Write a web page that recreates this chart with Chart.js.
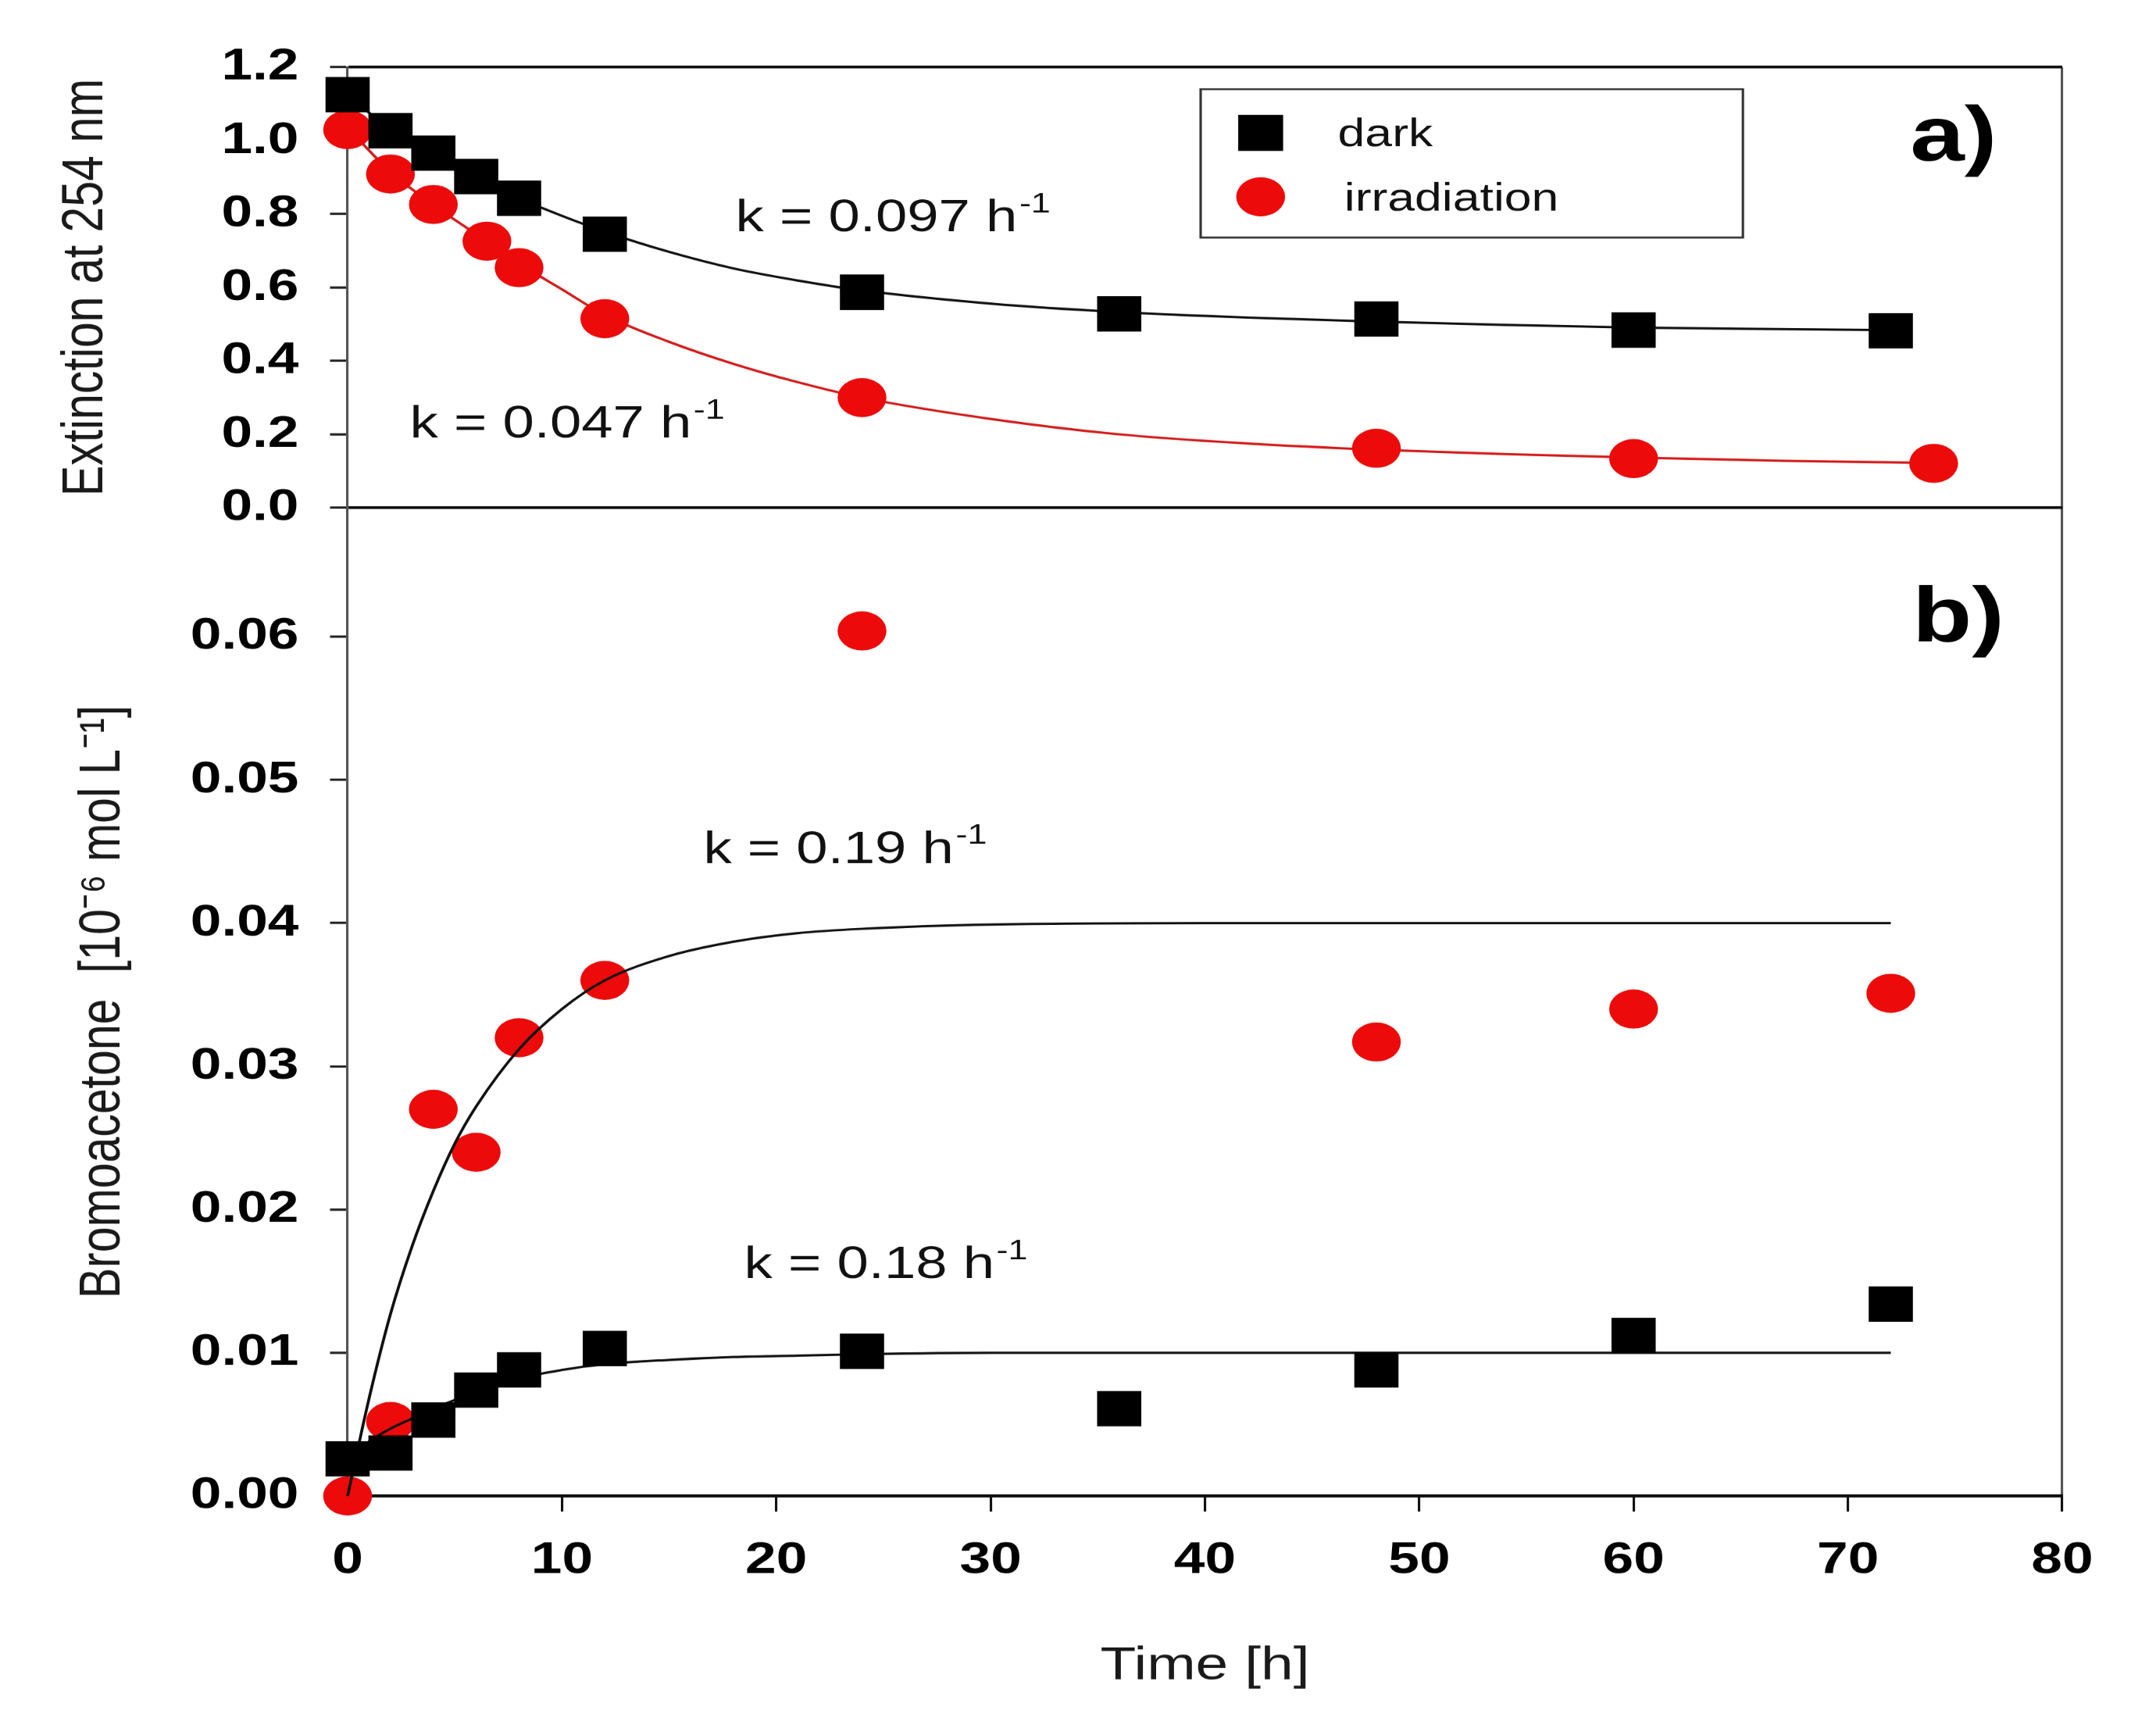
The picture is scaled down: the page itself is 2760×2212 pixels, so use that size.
<!DOCTYPE html>
<html>
<head>
<meta charset="utf-8">
<script src="https://cdn.jsdelivr.net/npm/chart.js@4.4.1/dist/chart.umd.min.js"></script>
<style>
  html, body { margin: 0; padding: 0; background: #fff; overflow: hidden; }
  /* the original figure is stretched sideways, so draw narrow and scale the box */
  #wrap { width: 2208px; height: 2212px; transform: scaleX(1.25); transform-origin: 0 0; }
</style>
</head>
<body>
<div id="wrap"><canvas id="c"></canvas></div>
<script>
var FAMILY = "'Liberation Sans', Arial, sans-serif";
var RED = '#ec0a0a';

// a) extinction at 254 nm
var hoursDarkA = [0, 2, 4, 6, 8, 12, 24, 36, 48, 60, 72];
var extDark = [1.125, 1.027, 0.966, 0.902, 0.843, 0.745, 0.587, 0.528, 0.514, 0.484, 0.482];
var hoursIrrA = [0, 2, 4, 6.5, 8, 12, 24, 48, 60, 74];
var extIrr = [1.03, 0.909, 0.826, 0.726, 0.654, 0.515, 0.300, 0.162, 0.134, 0.121];

// fitted curves of a)
var fitDarkA_t = [0, 2, 4, 6, 8, 10, 12, 15, 18, 21, 24, 30, 36, 42, 48, 54, 60, 66, 72];
var fitDarkA_y = [1.125, 1.03, 0.96, 0.9, 0.843, 0.795, 0.752, 0.697, 0.652, 0.619, 0.592, 0.556, 0.533, 0.518, 0.507, 0.498, 0.491, 0.487, 0.484];
var fitIrrA_t = [0, 2, 4, 6, 8, 10, 12, 15, 18, 21, 24, 30, 36, 42, 48, 54, 60, 67, 74];
var fitIrrA_y = [1.035, 0.915, 0.825, 0.745, 0.665, 0.595, 0.525, 0.452, 0.392, 0.342, 0.300, 0.242, 0.200, 0.175, 0.158, 0.146, 0.137, 0.128, 0.122];

// b) bromoacetone [10^-6 mol/L]
var hoursDarkB = [0, 2, 4, 6, 8, 12, 24, 36, 48, 60, 72];
var bromoDark = [0.0026, 0.0030, 0.0053, 0.0074, 0.0088, 0.0103, 0.0101, 0.0061, 0.0088, 0.0112, 0.0134];
var hoursIrrB = [0, 2, 4, 6, 8, 12, 24, 48, 60, 72];
var bromoIrr = [0.0, 0.0052, 0.0270, 0.0240, 0.0320, 0.0360, 0.0604, 0.0317, 0.0340, 0.0351];

var fitDarkB_t = [0, 1, 2, 3, 4, 5, 6, 8, 10, 12, 15, 18, 21, 24, 30, 72];
var fitDarkB_y = [0.0025, 0.0038, 0.0047, 0.0054, 0.0061, 0.0067, 0.0072, 0.0082, 0.0088, 0.0092, 0.0095, 0.0097, 0.0098, 0.0099, 0.0100, 0.0100];
var fitIrrB_t = [0, 1, 2, 3, 4, 5, 6, 8, 10, 12, 15, 18, 21, 24, 30, 40, 72];
var fitIrrB_y = [0.0, 0.0068, 0.0127, 0.0174, 0.0213, 0.0246, 0.0272, 0.0312, 0.0340, 0.0360, 0.0377, 0.0387, 0.0393, 0.0396, 0.0399, 0.0400, 0.0400];

var xTicksMax = 80;

function pairs(xs, ys) {
  return xs.map(function (t, i) { return { x: t, y: ys[i] }; });
}

function pointSet(label, xs, ys, axis, style, color, radius, order) {
  return {
    label: label, data: pairs(xs, ys), yAxisID: axis,
    showLine: false, pointStyle: style, pointRadius: radius, pointHoverRadius: radius,
    pointBackgroundColor: color, pointBorderWidth: 0, clip: false, order: order
  };
}

function fitSet(xs, ys, axis, color, order) {
  return {
    label: 'fit', data: pairs(xs, ys), yAxisID: axis,
    showLine: true, pointRadius: 0, borderColor: color, borderWidth: 3,
    cubicInterpolationMode: 'monotone', clip: false, order: order
  };
}

function supText(ctx, px, py, base, sup, size) {
  ctx.font = size + 'px ' + FAMILY;
  ctx.textAlign = 'left';
  ctx.textBaseline = 'alphabetic';
  ctx.fillText(base, px, py);
  var w = ctx.measureText(base).width;
  ctx.font = Math.round(size * 0.62) + 'px ' + FAMILY;
  ctx.fillText(sup, px + w + 2, py - size * 0.42);
}

// rate constants, panel letters and the legend box
var notes = {
  id: 'notes',
  afterDatasetsDraw: function (chart) {
    var ctx = chart.ctx, x = chart.scales.x, ya = chart.scales.ya, yb = chart.scales.yb;
    ctx.save();
    ctx.fillStyle = '#111';
    supText(ctx, x.getPixelForValue(18.1), ya.getPixelForValue(0.753), 'k = 0.097 h', '-1', 58);
    supText(ctx, x.getPixelForValue(2.9), ya.getPixelForValue(0.191), 'k = 0.047 h', '-1', 58);
    supText(ctx, x.getPixelForValue(16.6), yb.getPixelForValue(0.0442), 'k = 0.19 h', '-1', 58);
    supText(ctx, x.getPixelForValue(18.5), yb.getPixelForValue(0.0152), 'k = 0.18 h', '-1', 58);

    ctx.font = 'bold 100px ' + FAMILY;
    ctx.fillStyle = '#000';
    ctx.fillText('a)', x.getPixelForValue(72.9), ya.getPixelForValue(0.945));
    ctx.fillText('b)', x.getPixelForValue(73.0), yb.getPixelForValue(0.0597));

    // legend
    var l = x.getPixelForValue(39.8), r = x.getPixelForValue(65.1);
    var t = ya.getPixelForValue(1.14), b = ya.getPixelForValue(0.736);
    ctx.fillStyle = '#fff';
    ctx.fillRect(l, t, r - l, b - t);
    ctx.strokeStyle = '#333';
    ctx.lineWidth = 2.5;
    ctx.strokeRect(l, t, r - l, b - t);

    var mx = x.getPixelForValue(42.6);
    ctx.fillStyle = '#000';
    var yd = ya.getPixelForValue(1.021);
    ctx.fillRect(mx - 23, yd - 23, 46, 46);
    ctx.fillStyle = RED;
    ctx.beginPath();
    ctx.arc(mx, ya.getPixelForValue(0.847), 25, 0, Math.PI * 2);
    ctx.fill();

    ctx.fillStyle = '#111';
    ctx.font = '50px ' + FAMILY;
    ctx.fillText('dark', x.getPixelForValue(46.2), ya.getPixelForValue(0.985));
    ctx.fillText('irradiation', x.getPixelForValue(46.5), ya.getPixelForValue(0.809));
    ctx.restore();
  }
};

var tickFont = { family: FAMILY, size: 57, weight: 'bold' };
var none = 'rgba(0,0,0,0)';

function isVal(ctx, v) {
  return ctx.tick && Math.abs(ctx.tick.value - v) < 1e-6;
}

new Chart(document.getElementById('c'), {
  type: 'scatter',
  data: {
    datasets: [
      pointSet('dark', hoursDarkA, extDark, 'ya', 'rect', '#000', 32, 0),
      pointSet('irradiation', hoursIrrA, extIrr, 'ya', 'circle', RED, 25, 1),
      fitSet(fitDarkA_t, fitDarkA_y, 'ya', '#111', 5),
      fitSet(fitIrrA_t, fitIrrA_y, 'ya', '#d61a1a', 5),
      pointSet('dark', hoursDarkB, bromoDark, 'yb', 'rect', '#000', 32, 0),
      fitSet(fitDarkB_t, fitDarkB_y, 'yb', '#111', 3),
      fitSet(fitIrrB_t, fitIrrB_y, 'yb', '#111', 3),
      pointSet('irradiation', hoursIrrB, bromoIrr, 'yb', 'circle', RED, 25, 6)
    ]
  },
  options: {
    responsive: true,
    maintainAspectRatio: false,
    animation: false,
    devicePixelRatio: 1.25,
    layout: { padding: { top: 86, right: 96, left: 0, bottom: 0 } },
    plugins: { legend: { display: false }, tooltip: { enabled: false } },
    scales: {
      x: {
        type: 'linear', position: 'bottom', min: 0, max: xTicksMax,
        ticks: { stepSize: 10, font: tickFont, color: '#000', padding: 29, maxRotation: 0,
                 autoSkip: false, callback: function (v) { return String(v); } },
        grid: {
          drawOnChartArea: true,
          color: function (c) { return isVal(c, xTicksMax) ? '#555' : none; },
          lineWidth: 2.5, tickColor: '#111', tickLength: 20, tickWidth: 2.5
        },
        border: { display: true, color: '#111', width: 4 },
        title: { display: true, text: 'Time [h]', color: '#1a1a1a',
                 font: { family: FAMILY, size: 60 }, padding: { top: 0, bottom: 43 } },
        afterFit: function (s) { s.height = 297; }
      },
      // bottom panel first: stacked left axes are placed bottom-up
      yb: {
        type: 'linear', position: 'left', stack: 'panels', stackWeight: 1265,
        min: 0, max: 0.069,
        ticks: { stepSize: 0.01, includeBounds: false, autoSkip: false, font: tickFont, color: '#000', padding: 32,
                 callback: function (v) { return v.toFixed(2); } },
        grid: { drawOnChartArea: false, color: none, tickColor: '#222', tickLength: 18, tickWidth: 3 },
        border: { display: true, color: '#555', width: 2.5 },
        title: { display: true, text: 'Bromoacetone  [10\u207B\u2076 mol L\u207B\u00B9]', color: '#1a1a1a',
                 font: { family: FAMILY, size: 59 }, padding: { top: 71, bottom: 0 } },
        afterFit: function (s) { s.width = 356; }
      },
      ya: {
        type: 'linear', position: 'left', stack: 'panels', stackWeight: 564,
        min: 0, max: 1.2,
        ticks: { stepSize: 0.2, autoSkip: false, font: tickFont, color: '#000', padding: 32,
                 callback: function (v) { return v.toFixed(1); } },
        grid: {
          drawOnChartArea: true,
          color: function (c) { return (isVal(c, 0) || isVal(c, 1.2)) ? '#111' : none; },
          lineWidth: 3.5, tickColor: '#222', tickLength: 18, tickWidth: 3
        },
        border: { display: true, color: '#555', width: 2.5 },
        title: { display: true, text: 'Extinction at 254 nm', color: '#1a1a1a',
                 font: { family: FAMILY, size: 59 }, padding: { top: 53, bottom: 0 } },
        afterFit: function (s) { s.width = 356; }
      }
    }
  },
  plugins: [notes]
});
</script>
</body>
</html>
